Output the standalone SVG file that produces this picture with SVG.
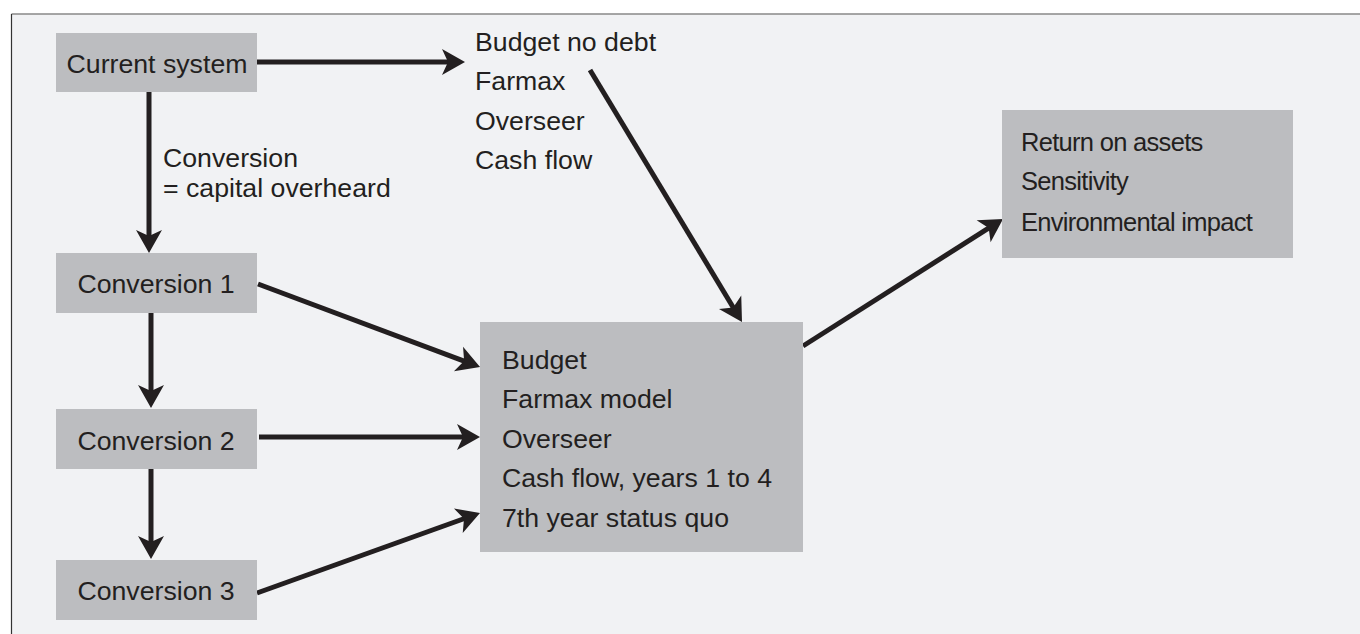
<svg xmlns="http://www.w3.org/2000/svg" width="1360" height="634" viewBox="0 0 1360 634">
  <style>
    .box { fill: #bcbdc0; }
    .t { font-family: "Liberation Sans", Arial, Helvetica, sans-serif; font-size: 26.7px; fill: #231f20; }
    .s { font-size: 25.5px; letter-spacing: -0.7px; }
    .c { text-anchor: middle; }
    .conn { stroke: #231f20; stroke-width: 5; fill: none; marker-end: url(#ah); }
  </style>
  <defs>
    <marker id="ah" markerUnits="userSpaceOnUse" orient="auto" viewBox="-12 -14 26 28" refX="0" refY="0" markerWidth="26" markerHeight="28">
      <path d="M12,0 L-11,-13 L-5,0 L-11,13 Z" fill="#231f20"/>
    </marker>
  </defs>

  <rect x="0" y="0" width="1360" height="634" fill="#ffffff"/>
  <rect x="11.5" y="14" width="1360" height="640" fill="#f1f2f4"/>
  <line x1="11.5" y1="14" x2="1360" y2="14" stroke="#888888" stroke-width="1.6"/>
  <line x1="11.5" y1="14" x2="11.5" y2="634" stroke="#333333" stroke-width="1.2"/>

  <g id="connectors">
    <line class="conn" x1="257" y1="62" x2="453" y2="62"/>
    <line class="conn" x1="149" y1="92" x2="149" y2="241"/>
    <line class="conn" x1="151" y1="313" x2="151" y2="396"/>
    <line class="conn" x1="151" y1="469" x2="151" y2="547"/>
    <line class="conn" x1="258" y1="284" x2="468.8" y2="362.8"/>
    <line class="conn" x1="259" y1="437" x2="468" y2="437"/>
    <line class="conn" x1="257" y1="593" x2="468.7" y2="517"/>
    <line class="conn" x1="590" y1="70" x2="735.8" y2="311.7"/>
    <line class="conn" x1="803" y1="346" x2="992.9" y2="225.4"/>
    <text class="t" x="163" y="167">Conversion</text>
    <text class="t" x="163" y="197">= capital overheard</text>
  </g>

  <g id="current-system">
    <rect class="box" x="56" y="33" width="201" height="59"/>
    <text class="t c" x="157" y="73">Current system</text>
  </g>

  <g id="conversion-1">
    <rect class="box" x="56" y="253" width="201" height="60"/>
    <text class="t c" x="156" y="293">Conversion 1</text>
  </g>

  <g id="conversion-2">
    <rect class="box" x="56" y="409" width="201" height="60"/>
    <text class="t c" x="156" y="450">Conversion 2</text>
  </g>

  <g id="conversion-3">
    <rect class="box" x="56" y="560" width="201" height="60"/>
    <text class="t c" x="156" y="600">Conversion 3</text>
  </g>

  <g id="budget-no-debt">
    <text class="t" x="475" y="51">Budget no debt</text>
    <text class="t" x="475" y="90">Farmax</text>
    <text class="t" x="475" y="130">Overseer</text>
    <text class="t" x="475" y="169">Cash flow</text>
  </g>

  <g id="budget">
    <rect class="box" x="480" y="322" width="323" height="230"/>
    <text class="t" x="502" y="369">Budget</text>
    <text class="t" x="502" y="408">Farmax model</text>
    <text class="t" x="502" y="448">Overseer</text>
    <text class="t" x="502" y="487">Cash flow, years 1 to 4</text>
    <text class="t" x="502" y="527">7th year status quo</text>
  </g>

  <g id="results">
    <rect class="box" x="1002" y="110" width="291" height="148"/>
    <text class="t s" x="1021" y="151">Return on assets</text>
    <text class="t s" x="1021" y="190">Sensitivity</text>
    <text class="t s" x="1021" y="231">Environmental impact</text>
  </g>
</svg>
